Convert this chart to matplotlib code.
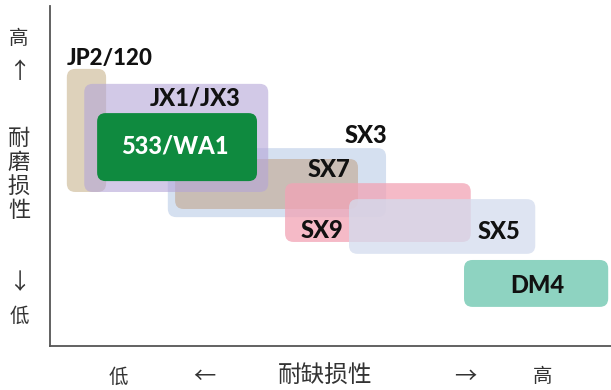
import matplotlib
matplotlib.use("Agg")
import matplotlib.pyplot as plt
from matplotlib.patches import FancyBboxPatch

plt.rcParams['font.family'] = ['Noto Sans CJK SC', 'DejaVu Sans']

# ---- data (axis units: 0-100 on both axes) ----
grades = ["JP2/120", "SX3", "SX7", "JX1/JX3", "533/WA1", "SX9", "SX5", "DM4"]
x_start = [3.0, 21.0, 22.3, 6.1, 8.4, 41.9, 53.3, 73.8]
x_end = [10.0, 59.9, 54.9, 38.9, 36.9, 75.0, 86.5, 99.5]
y_low = [45.3, 37.9, 40.3, 45.3, 48.5, 30.6, 27.1, 11.5]
y_high = [81.5, 58.2, 55.0, 77.1, 68.5, 47.9, 43.2, 25.3]
label_x = [10.7, 56.3, 49.7, 25.8, 22.3, 48.5, 80.0, 86.8]
label_y = [84.7, 61.8, 51.8, 72.9, 58.8, 34.1, 33.8, 17.9]
colors = ["#c9b48e", "#c4d3ea", "#c2a68e", "#b4a5d8", "#0f8a3f",
          "#f2a3b5", "#d3dcee", "#8ed3c1"]
alphas = [0.6, 0.7, 0.6, 0.6, 1.0, 0.75, 0.75, 1.0]
text_colors = ["#111111", "#111111", "#111111", "#111111", "#ffffff",
               "#111111", "#111111", "#111111"]
label_sizes = [16, 17, 17, 17, 17, 17, 17, 17]

y_axis_title = "耐磨损性"
x_axis_title = "耐缺损性"
low_label, high_label = "低", "高"

fig = plt.figure(figsize=(6.11, 3.90), dpi=100)
ax = fig.add_axes([50 / 611, 44 / 390, 561 / 611, 340 / 390])
ax.set_xlim(0, 100)
ax.set_ylim(0, 100)

# aspect correction so rounded corners are circular
px_per_x = 561 / 100
px_per_y = 340 / 100
aspect = px_per_x / px_per_y

for g, x0, x1, y0, y1, c, a in zip(grades, x_start, x_end, y_low, y_high, colors, alphas):
    p = FancyBboxPatch((x0, y0), x1 - x0, y1 - y0,
                       boxstyle="round,pad=0,rounding_size=1.5",
                       mutation_aspect=aspect,
                       facecolor=c, edgecolor="none", alpha=a, zorder=2)
    ax.add_patch(p)

for g, lx, ly, tc, fs in zip(grades, label_x, label_y, text_colors, label_sizes):
    ax.text(lx, ly, g, ha="center", va="center", color=tc, fontsize=fs,
            family=["Lato", "DejaVu Sans"], fontweight="black", zorder=5)

for s in ["top", "right"]:
    ax.spines[s].set_visible(False)
for s in ["left", "bottom"]:
    ax.spines[s].set_color("#555555")
    ax.spines[s].set_linewidth(1.3)
ax.set_xticks([])
ax.set_yticks([])

# y-axis annotation
def fy(py):
    return 1 - py / 390

tc = "#333333"
fig.text(19 / 611, fy(39), high_label, ha="center", va="center", fontsize=14, color=tc)
fig.text(19 / 611, fy(71), "↑", ha="center", va="center", fontsize=16, color=tc)
for i, ch in enumerate(y_axis_title):
    fig.text(19 / 611, fy(138 + i * 24.3), ch, ha="center", va="center", fontsize=16, color=tc)
fig.text(19 / 611, fy(283), "↓", ha="center", va="center", fontsize=16, color=tc)
fig.text(19 / 611, fy(316), low_label, ha="center", va="center", fontsize=14, color=tc)

# x-axis annotation
fig.text(118 / 611, fy(377), low_label, ha="center", va="center", fontsize=14, color=tc)
fig.text(204 / 611, fy(377), "←", ha="center", va="center", fontsize=16, color=tc)
fig.text(325 / 611, fy(376), x_axis_title, ha="center", va="center", fontsize=17, color=tc)
fig.text(465 / 611, fy(377), "→", ha="center", va="center", fontsize=16, color=tc)
fig.text(543 / 611, fy(377), high_label, ha="center", va="center", fontsize=14, color=tc)

fig.savefig("out.png", dpi=100)
